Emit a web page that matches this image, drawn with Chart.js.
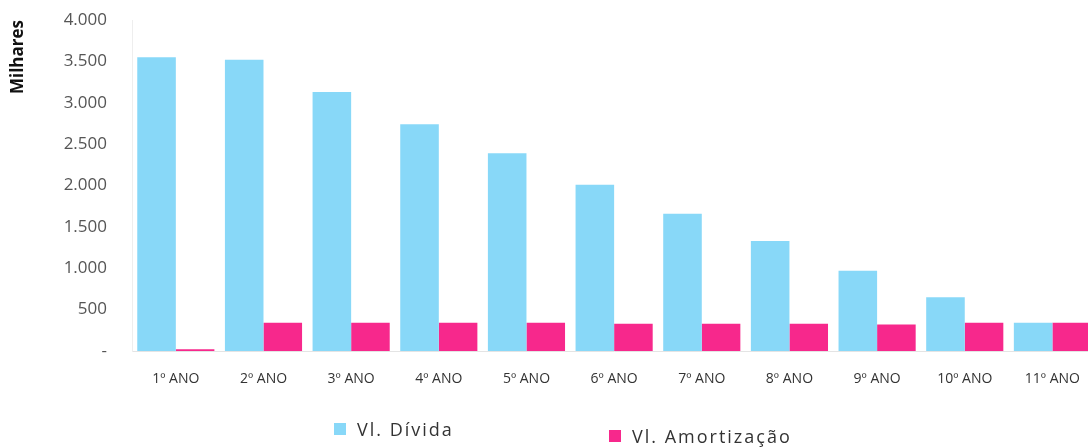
<!DOCTYPE html>
<html>
<head>
<meta charset="utf-8">
<script src="https://cdn.jsdelivr.net/npm/chart.js@4.4.1/dist/chart.umd.min.js"></script>
<style>
  html, body { margin: 0; padding: 0; background: #fff; overflow: hidden; width: 1088px; height: 447px; }
  #wrap { position: absolute; left: 0; top: 0; width: 1100px; height: 447px; }
  .leg { position: absolute; font-family: "Open Sans", "DejaVu Sans", sans-serif; font-size: 18px; color: #333; letter-spacing: 2px; display: flex; align-items: center; white-space: nowrap; }
  .leg span.box { display: inline-block; width: 12px; height: 12px; margin-right: 11px; }
</style>
</head>
<body>
<div id="wrap"><canvas id="c" width="1100" height="447"></canvas></div>
<div id="legend"></div>
<script>
const categories = ["1º ANO", "2º ANO", "3º ANO", "4º ANO", "5º ANO", "6º ANO", "7º ANO", "8º ANO", "9º ANO", "10º ANO", "11º ANO"];
const divida = [3550, 3520, 3130, 2740, 2390, 2010, 1660, 1330, 970, 650, 340];
const amortizacao = [20, 340, 340, 340, 340, 330, 330, 330, 320, 340, 340];
const seriesNames = ["Vl. Dívida", "Vl. Amortização"];
const seriesColors = ["#88d8f8", "#f7288c"];
const yTicks = [0, 500, 1000, 1500, 2000, 2500, 3000, 3500, 4000];
const legendPos = [[334, 417], [609, 424]];

function fmt(v) {
  if (v === 0) return "-";
  const s = String(Math.round(v));
  return s.replace(/\B(?=(\d{3})+(?!\d))/g, ".");
}

const chart = new Chart(document.getElementById("c"), {
  type: "bar",
  data: {
    labels: categories,
    datasets: [
      { label: seriesNames[0], data: divida, backgroundColor: seriesColors[0] },
      { label: seriesNames[1], data: amortizacao, backgroundColor: seriesColors[1] }
    ]
  },
  options: {
    responsive: false,
    animation: false,
    layout: { padding: { top: 20, right: 0, bottom: 0, left: 0 } },
    datasets: { bar: { categoryPercentage: 0.88, barPercentage: 1.0 } },
    plugins: { legend: { display: false }, tooltip: { enabled: false } },
    scales: {
      x: {
        grid: { display: false, drawTicks: false },
        border: { display: true, color: "#e4e4e4" },
        ticks: { padding: 20, color: "#333", font: { family: "Open Sans", size: 14 }, maxRotation: 0, autoSkip: false },
        afterFit(scale) { scale.height = 96; }
      },
      y: {
        min: 0, max: 4000,
        afterBuildTicks(scale) { scale.ticks = yTicks.map(v => ({ value: v })); },
        grid: { display: false, drawTicks: false },
        border: { display: true, color: "#eeeeee" },
        ticks: { padding: 25, color: "#555", font: { family: "Open Sans", size: 17 }, callback: (v) => fmt(v) },
        title: { display: true, text: "Milhares", align: "end", color: "#111", font: { family: "Open Sans", size: 17, weight: "bold" }, padding: { top: 8, bottom: 10 } },
        afterFit(scale) { scale.width = 132; scale.paddingTop = 0; scale.paddingBottom = 0; }
      }
    }
  }
});

const legendDiv = document.getElementById("legend");
seriesNames.forEach((name, i) => {
  const d = document.createElement("div");
  d.className = "leg";
  d.style.left = legendPos[i][0] + "px";
  d.style.top = legendPos[i][1] + "px";
  const b = document.createElement("span");
  b.className = "box";
  b.style.background = seriesColors[i];
  d.appendChild(b);
  d.appendChild(document.createTextNode(name));
  legendDiv.appendChild(d);
});
</script>
</body>
</html>
